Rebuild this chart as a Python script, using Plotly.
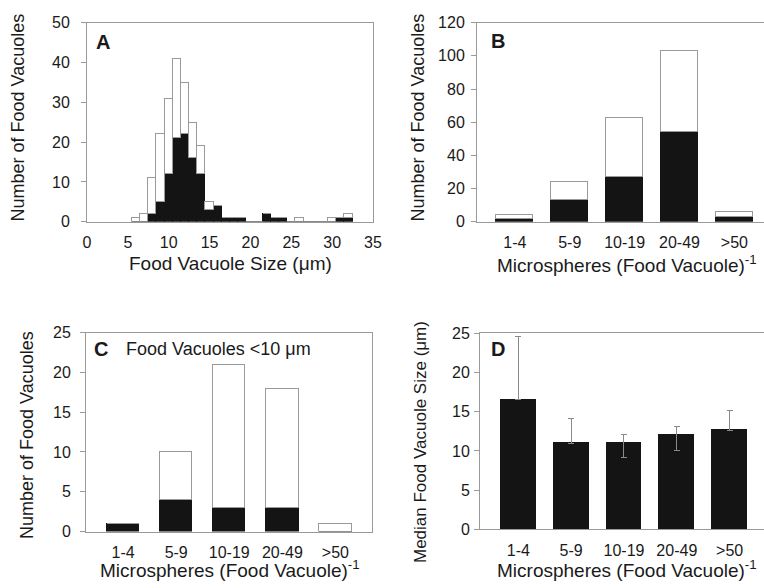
import plotly.graph_objects as go

W, H = 764, 588

# ---------------- data ----------------
# Panel A: histogram of food vacuole size (1-um bins, centres)
size_bins = list(range(6, 33))
A_total = [1, 2, 11, 22, 31, 41, 35, 25, 19, 5, 4, 1, 1, 1, 0, 0, 2, 1, 1, 0, 1, 0, 0, 0, 1, 1, 2]
A_black = [0, 0, 2, 5, 12, 21, 22, 16, 12, 3, 4, 1, 1, 1, 0, 0, 2, 1, 1, 0, 0, 0, 0, 0, 0, 1, 1]

categories = ["1-4", "5-9", "10-19", "20-49", ">50"]
# Panel B
B_total = [4, 24, 63, 103, 6]
B_black = [2, 13, 27, 54, 3]
# Panel C (food vacuoles < 10 um)
C_total = [1, 10, 21, 18, 1]
C_black = [1, 4, 3, 3, 0]
# Panel D: median food vacuole size with error range
D_median = [16.5, 11.0, 11.0, 12.0, 12.6]
D_err_plus = [8.1, 3.1, 1.1, 1.05, 2.5]
D_err_minus = [0, 0, 1.8, 1.9, 0]

# ---------------- styles ----------------
FONT = "Liberation Sans, Arial, sans-serif"
BLACK = "#141414"
LINE = "#9a9a9a"
TXT = "#1a1a1a"


def px_x(p):
    return p / W


def px_y(p):
    return 1 - p / H


def diff(a, b):
    return [t - k for t, k in zip(a, b)]


fig = go.Figure()

# Panel A
fig.add_trace(go.Bar(x=size_bins, y=A_black, width=1, marker=dict(color=BLACK, line=dict(color=BLACK, width=1)),
                     xaxis="x", yaxis="y", showlegend=False))
fig.add_trace(go.Bar(x=size_bins, y=diff(A_total, A_black), width=1,
                     marker=dict(color="white", line=dict(color=LINE, width=1)),
                     xaxis="x", yaxis="y", showlegend=False))
# Panel B
fig.add_trace(go.Bar(x=categories, y=B_black, width=0.67, marker=dict(color=BLACK, line=dict(color=BLACK, width=1)),
                     xaxis="x2", yaxis="y2", showlegend=False))
fig.add_trace(go.Bar(x=categories, y=diff(B_total, B_black), width=0.67,
                     marker=dict(color="white", line=dict(color=LINE, width=1)),
                     xaxis="x2", yaxis="y2", showlegend=False))
# Panel C
fig.add_trace(go.Bar(x=categories, y=C_black, width=0.61, marker=dict(color=BLACK, line=dict(color=BLACK, width=1)),
                     xaxis="x3", yaxis="y3", showlegend=False))
fig.add_trace(go.Bar(x=categories, y=diff(C_total, C_black), width=0.61,
                     marker=dict(color="white", line=dict(color=LINE, width=1)),
                     xaxis="x3", yaxis="y3", showlegend=False))
# Panel D
fig.add_trace(go.Bar(x=categories, y=D_median, width=0.66, marker=dict(color=BLACK, line=dict(color=BLACK, width=1)),
                     error_y=dict(type="data", symmetric=False, array=D_err_plus, arrayminus=D_err_minus,
                                  color="#8a8a8a", thickness=1, width=3),
                     xaxis="x4", yaxis="y4", showlegend=False))

tickfont = dict(family=FONT, size=16, color=TXT)


def xax(domain, rng, anchor, cat=True, **kw):
    d = dict(domain=domain, range=rng, anchor=anchor, showline=True, linecolor=LINE, linewidth=1,
             mirror=True, ticks="", showgrid=False, zeroline=False, tickfont=tickfont,
             ticklabelstandoff=6, fixedrange=True, automargin=False)
    if cat:
        d["type"] = "category"
    d.update(kw)
    return d


def yax(domain, rng, dtick, anchor, standoff):
    return dict(domain=domain, range=rng, dtick=dtick, anchor=anchor, showline=True, linecolor=LINE,
                linewidth=1, mirror=True, ticks="outside", ticklen=5, tickcolor=LINE, showgrid=False,
                zeroline=False, tickfont=tickfont, ticklabelstandoff=standoff, fixedrange=True,
                automargin=False)


fig.update_layout(
    width=W, height=H, margin=dict(l=0, r=0, t=0, b=0, pad=0, autoexpand=False),
    paper_bgcolor="white", plot_bgcolor="white", barmode="stack", bargap=0,
    font=dict(family=FONT, color=TXT),
    xaxis=xax([px_x(87), px_x(373)], [0, 35], "y", cat=False, tickvals=[0, 5, 10, 15, 20, 25, 30, 35]),
    yaxis=yax([px_y(221.7), px_y(22.7)], [0, 50], 10, "x", 8),
    xaxis2=xax([px_x(477), 1.0], [-0.69, 4.54], "y2"),
    yaxis2=yax([px_y(221.7), px_y(22.7)], [0, 120], 20, "x2", 3),
    xaxis3=xax([px_x(86), px_x(372)], [-0.70, 4.69], "y3"),
    yaxis3=yax([px_y(531.5), px_y(332.7)], [0, 25], 5, "x3", 6),
    xaxis4=xax([px_x(480), 1.0], [-0.725, 4.65], "y4"),
    yaxis4=yax([px_y(529.3), px_y(333.3)], [0, 25], 5, "x4", 1),
)

TF = dict(family=FONT, size=18, color=TXT)
XF = dict(family=FONT, size=19, color=TXT)
DF = dict(family=FONT, size=17, color=TXT)
ann = []


def note(text, x, y, angle=0, font=TF, xanchor="center"):
    ann.append(dict(text=text, x=px_x(x), y=px_y(y), xref="paper", yref="paper", showarrow=False,
                    textangle=angle, font=font, xanchor=xanchor, yanchor="middle"))


# axis titles
note("Number of Food Vacuoles", 18, 117.5, -90)
note("Number of Food Vacuoles", 418, 117.5, -90)
note("Number of Food Vacuoles", 27, 435, -90)
note("Median Food Vacuole Size (μm)", 421, 442, -90, font=DF)
note("Food Vacuole Size (μm)", 230, 263, font=XF)
note("Microspheres (Food Vacuole)<sup>-1</sup>", 627, 264, font=XF)
note("Microspheres (Food Vacuole)<sup>-1</sup>", 230, 569, font=XF)
note("Microspheres (Food Vacuole)<sup>-1</sup>", 627, 569, font=XF)

# panel letters
BF = dict(family=FONT, size=20, color=TXT, weight="bold")
note("<b>A</b>", 94, 42, font=BF, xanchor="left")
note("<b>B</b>", 489, 41, font=BF, xanchor="left")
note("<b>C</b>", 92, 349, font=BF, xanchor="left")
note("Food Vacuoles <10 μm", 124, 349, xanchor="left")
note("<b>D</b>", 489, 349, font=BF, xanchor="left")

fig.update_layout(annotations=ann)
fig.write_html("out.html")
